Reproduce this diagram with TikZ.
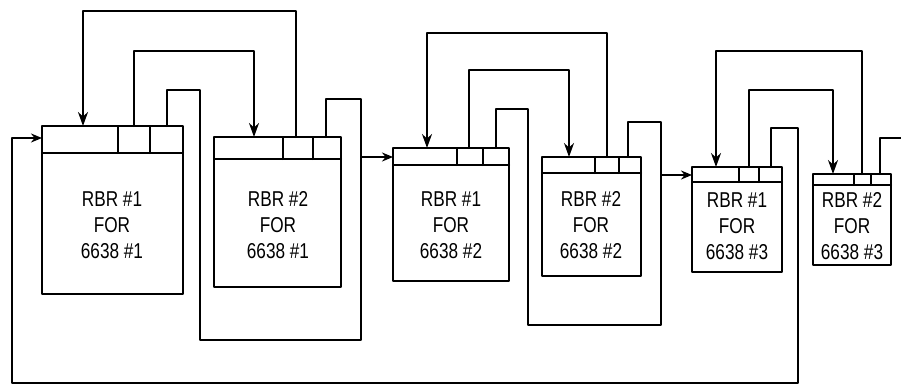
\documentclass[tikz,border=0pt]{standalone}
\usepackage{fontspec}
\newfontfamily\rbrfont[FakeStretch=0.8]{Liberation Sans}
\usetikzlibrary{arrows.meta}

\begin{document}
\begin{tikzpicture}[x=1pt,y=-1pt,>=Stealth,line join=round,line cap=round,
  box/.style={line width=2pt},
  link/.style={line width=2pt},
  down/.style={-{Stealth[length=14pt,width=10pt]}},
  feed/.style={-{Stealth[length=11pt,width=9pt,open]}},
  label/.style={align=center,font=\rbrfont\fontsize{21.5}{26}\selectfont,inner sep=0pt}]
  \useasboundingbox[fill=white] (0,0) rectangle (901,388);

  % boxes: outline, header line, header cells
  \draw[box] (42,126) rectangle (183,294);
  \draw[box] (42,153) -- (183,153) (118,126) -- (118,153) (150,126) -- (150,153);
  \draw[box] (214,137) rectangle (341,287);
  \draw[box] (214,159) -- (341,159) (283,137) -- (283,159) (313,137) -- (313,159);
  \draw[box] (393,148) rectangle (509,281);
  \draw[box] (393,165) -- (509,165) (457,148) -- (457,165) (483,148) -- (483,165);
  \draw[box] (542,157) rectangle (641,276);
  \draw[box] (542,173) -- (641,173) (595,157) -- (595,173) (619,157) -- (619,173);
  \draw[box] (692,167) rectangle (782,272);
  \draw[box] (692,182) -- (782,182) (739,167) -- (739,182) (759,167) -- (759,182);
  \draw[box] (813,174) rectangle (891,265);
  \draw[box] (813,185) -- (891,185) (854,174) -- (854,185) (871,174) -- (871,185);

  \node[label] (t1) at (112,225) {RBR \#1\\FOR\\6638 \#1};
  \node[label] (t2) at (278,225) {RBR \#2\\FOR\\6638 \#1};
  \node[label] (t3) at (451,225) {RBR \#1\\FOR\\6638 \#2};
  \node[label] (t4) at (591,225) {RBR \#2\\FOR\\6638 \#2};
  \node[label] (t5) at (737,226) {RBR \#1\\FOR\\6638 \#3};
  \node[label] (t6) at (852,226) {RBR \#2\\FOR\\6638 \#3};

  % cell tops and arrow ends
  \coordinate (b1t) at (83,126);  \coordinate (b1c1) at (134,126); \coordinate (b1c2) at (167,126);
  \coordinate (b2t) at (254,137); \coordinate (b2c1) at (296,137); \coordinate (b2c2) at (326,137);
  \coordinate (b3t) at (427,148); \coordinate (b3c1) at (469,148); \coordinate (b3c2) at (496,148);
  \coordinate (b4t) at (569,157); \coordinate (b4c1) at (607,157); \coordinate (b4c2) at (628,157);
  \coordinate (b5t) at (716,167); \coordinate (b5c1) at (749,167); \coordinate (b5c2) at (771,167);
  \coordinate (b6t) at (833,174); \coordinate (b6c1) at (862,174); \coordinate (b6c2) at (880,174);
  \coordinate (b1in) at (42,138); \coordinate (b3in) at (393,157); \coordinate (b5in) at (692,175);
  \coordinate (j1) at (361,157); \coordinate (j2) at (661,175); \coordinate (j3) at (12,138);
  \coordinate (exit) at (903,138);

  % first pair
  \draw[link,down] (b2c1) -- ++(0,-126) -| (b1t);
  \draw[link,down] (b1c1) -- ++(0,-75) -| (b2t);
  \draw[link] (b1c2) |- ++(33,-36) -- ++(0,250) -| (j1) -- ++(0,-58) -| (b2c2);
  \draw[link,feed] (j1) -- (b3in);

  % second pair
  \draw[link,down] (b4c1) -- ++(0,-124) -| (b3t);
  \draw[link,down] (b3c1) -- ++(0,-78) -| (b4t);
  \draw[link] (b3c2) |- ++(32,-39) -- ++(0,216) -| (j2) -- ++(0,-53) -| (b4c2);
  \draw[link,feed] (j2) -- (b5in);

  % third pair, back round to the first
  \draw[link,down] (b6c1) -- ++(0,-123) -| (b5t);
  \draw[link,down] (b5c1) -- ++(0,-77) -| (b6t);
  \draw[link,feed] (b5c2) |- ++(27,-39) -- ++(0,255) -| (j3) -- (b1in);
  \draw[link] (b6c2) |- (exit);
\end{tikzpicture}
\end{document}
